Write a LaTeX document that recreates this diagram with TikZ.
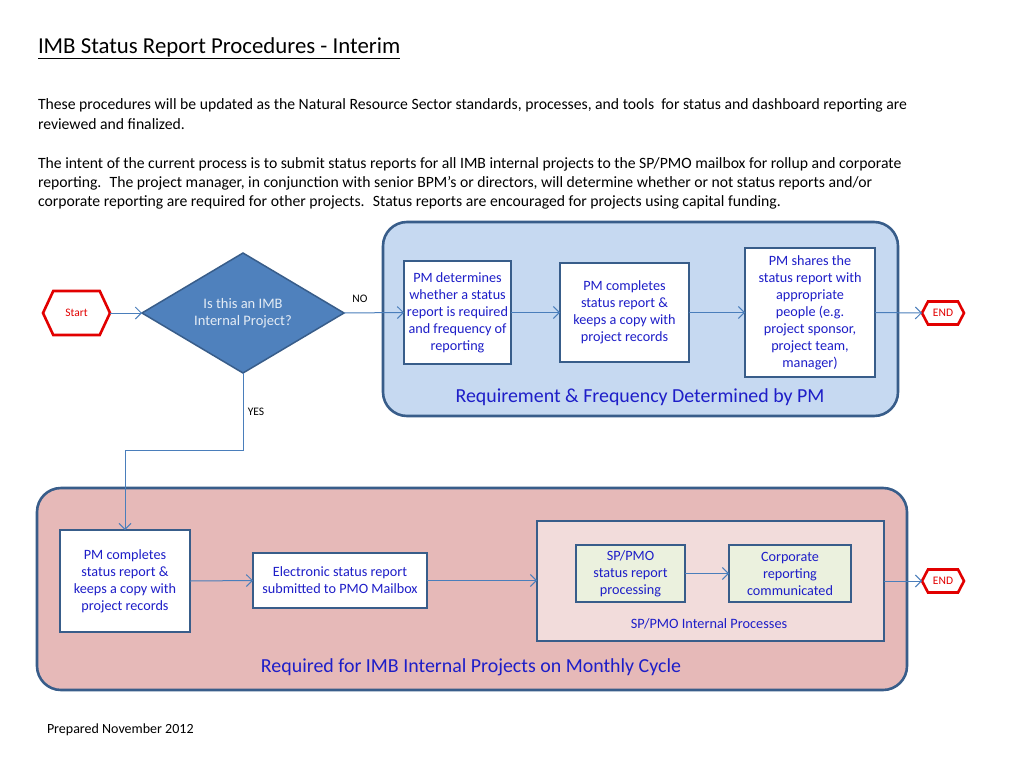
\documentclass[tikz,border=0pt]{standalone}
\usepackage{fontspec}
\setmainfont{Carlito}
\usetikzlibrary{shapes.geometric,shapes.symbols,arrows.meta}
\definecolor{conn}{RGB}{74,126,187}
\definecolor{bord}{RGB}{56,93,138}
\definecolor{bluefill}{RGB}{198,217,241}
\definecolor{pinkfill}{RGB}{230,185,184}
\definecolor{innerfill}{RGB}{242,220,219}
\definecolor{greenfill}{RGB}{235,241,222}
\definecolor{diafill}{RGB}{79,129,189}
\definecolor{txtblue}{RGB}{30,30,200}
\definecolor{redb}{RGB}{226,0,0}
\begin{document}
\begin{tikzpicture}[x=1pt,y=-1pt,
  every node/.style={inner sep=0pt, outer sep=0pt},
  procbox/.style={draw=bord, line width=2.6pt, fill=white, align=center, text=txtblue,
    font=\fontsize{14.2}{17}\selectfont},
  greenbox/.style={procbox, fill=greenfill},
  grp/.style={draw=bord, line width=2.6pt, rounded corners=24pt},
  term/.style={signal, signal to=west and east, draw=redb, line width=2.6pt, fill=white, text=redb,
    font=\fontsize{11.5}{13}\selectfont},
  conn/.style={draw=conn, line width=1pt, -{Straight Barb[length=6pt,width=12pt]}},
  grplabel/.style={text=txtblue, font=\fontsize{19.9}{22}\selectfont},
  small/.style={font=\fontsize{11.5}{13}\selectfont},
  para/.style={anchor=base west, font=\fontsize{15.7}{19}\selectfont}
]
\useasboundingbox (0,0) rectangle (1024,768);
\fill[white] (0,0) rectangle (1024,768);

% title and text
\node[anchor=base west, font=\fontsize{22.8}{26}\selectfont] (title) at (38,53) {\underline{IMB Status Report Procedures - Interim}};
\node[para] (p1a) at (38,109) {These procedures will be updated as the Natural Resource Sector standards, processes, and tools \ for status and dashboard reporting are};
\node[para] (p1b) at (38,129) {reviewed and finalized.};
\node[para] (p2a) at (38,168) {The intent of the current process is to submit status reports for all IMB internal projects to the SP/PMO mailbox for rollup and corporate};
\node[para] (p2b) at (38,187) {reporting. \ The project manager, in conjunction with senior BPM’s or directors, will determine whether or not status reports and/or};
\node[para] (p2c) at (38,206) {corporate reporting are required for other projects. \ Status reports are encouraged for projects using capital funding.};

% groups
\node[grp, fill=bluefill, minimum width=515, minimum height=194] (gblue) at (640.5,319) {};
\node[grp, fill=pinkfill, minimum width=870, minimum height=202] (gpink) at (472,589) {};
\node[draw=bord, line width=2.6pt, fill=innerfill, minimum width=347, minimum height=120] (inner) at (710.5,581) {};

\node[grplabel] (lblue) at (640,397) {Requirement \& Frequency Determined by PM};
\node[grplabel] (lpink) at (471,667) {Required for IMB Internal Projects on Monthly Cycle};
\node[text=txtblue, font=\fontsize{14.3}{16}\selectfont] (linner) at (709,624) {SP/PMO Internal Processes};

% terminals
\node[term, minimum width=67, minimum height=44, signal pointer angle=130] (start) at (76.5,313) {Start};
\node[term, minimum width=42, minimum height=23, signal pointer angle=125] (end1) at (943,313) {END};
\node[term, minimum width=42, minimum height=23, signal pointer angle=125] (end2) at (943,581) {END};

% decision
\node[diamond, aspect=1.7, draw=bord, line width=1.5pt, fill=diafill, minimum width=202, minimum height=120,
  text=white!85!diafill, align=center, font=\fontsize{14.5}{17.5}\selectfont] (dia) at (243,313)
  {Is this an IMB\\Internal Project?};

% process boxes
\node[procbox, minimum width=107, minimum height=103] (b1) at (457.5,312.5)
  {PM determines\\whether a status\\report is required\\and frequency of\\reporting};
\node[procbox, minimum width=129, minimum height=99] (b2) at (624.5,312.5)
  {PM completes\\status report \&\\keeps a copy with\\project records};
\node[procbox, minimum width=130, minimum height=129] (b3) at (810,312.5)
  {PM shares the\\status report with\\appropriate\\people (e.g.\\project sponsor,\\project team,\\manager)};
\node[procbox, minimum width=130, minimum height=102] (b4) at (125,581)
  {PM completes\\status report \&\\keeps a copy with\\project records};
\node[procbox, minimum width=174, minimum height=55] (b5) at (340,580.5)
  {Electronic status report\\submitted to PMO Mailbox};
\node[greenbox, minimum width=109, minimum height=57] (b6) at (630.5,573.5)
  {SP/PMO\\status report\\processing};
\node[greenbox, minimum width=122, minimum height=57] (b7) at (790,573.5)
  {Corporate\\reporting\\communicated};

% labels
\node[small] (no) at (360,299) {NO};
\node[small] (yes) at (256,412) {YES};
\node[anchor=base west, font=\fontsize{14}{16}\selectfont] (prep) at (47,733) {Prepared November 2012};

% connectors
\coordinate (ybend) at (243,450);
\draw[conn] (start.east) -- (dia.west);
\draw[conn] (dia.east) -- (b1.west);
\draw[conn] (b1.east) -- (b2.west);
\draw[conn] (b2.east) -- (b3.west);
\draw[conn] (b3.east) -- (end1.west);
\draw[conn] (dia.south) -- (ybend) -| (b4.north);
\draw[conn] (b4.east) -- (b5.west);
\draw[conn] (b5.east) -- (inner.west |- b5.east);
\draw[conn] (b6.east) -- (b7.west);
\draw[conn] (inner.east) -- (end2.west);
\end{tikzpicture}
\end{document}
